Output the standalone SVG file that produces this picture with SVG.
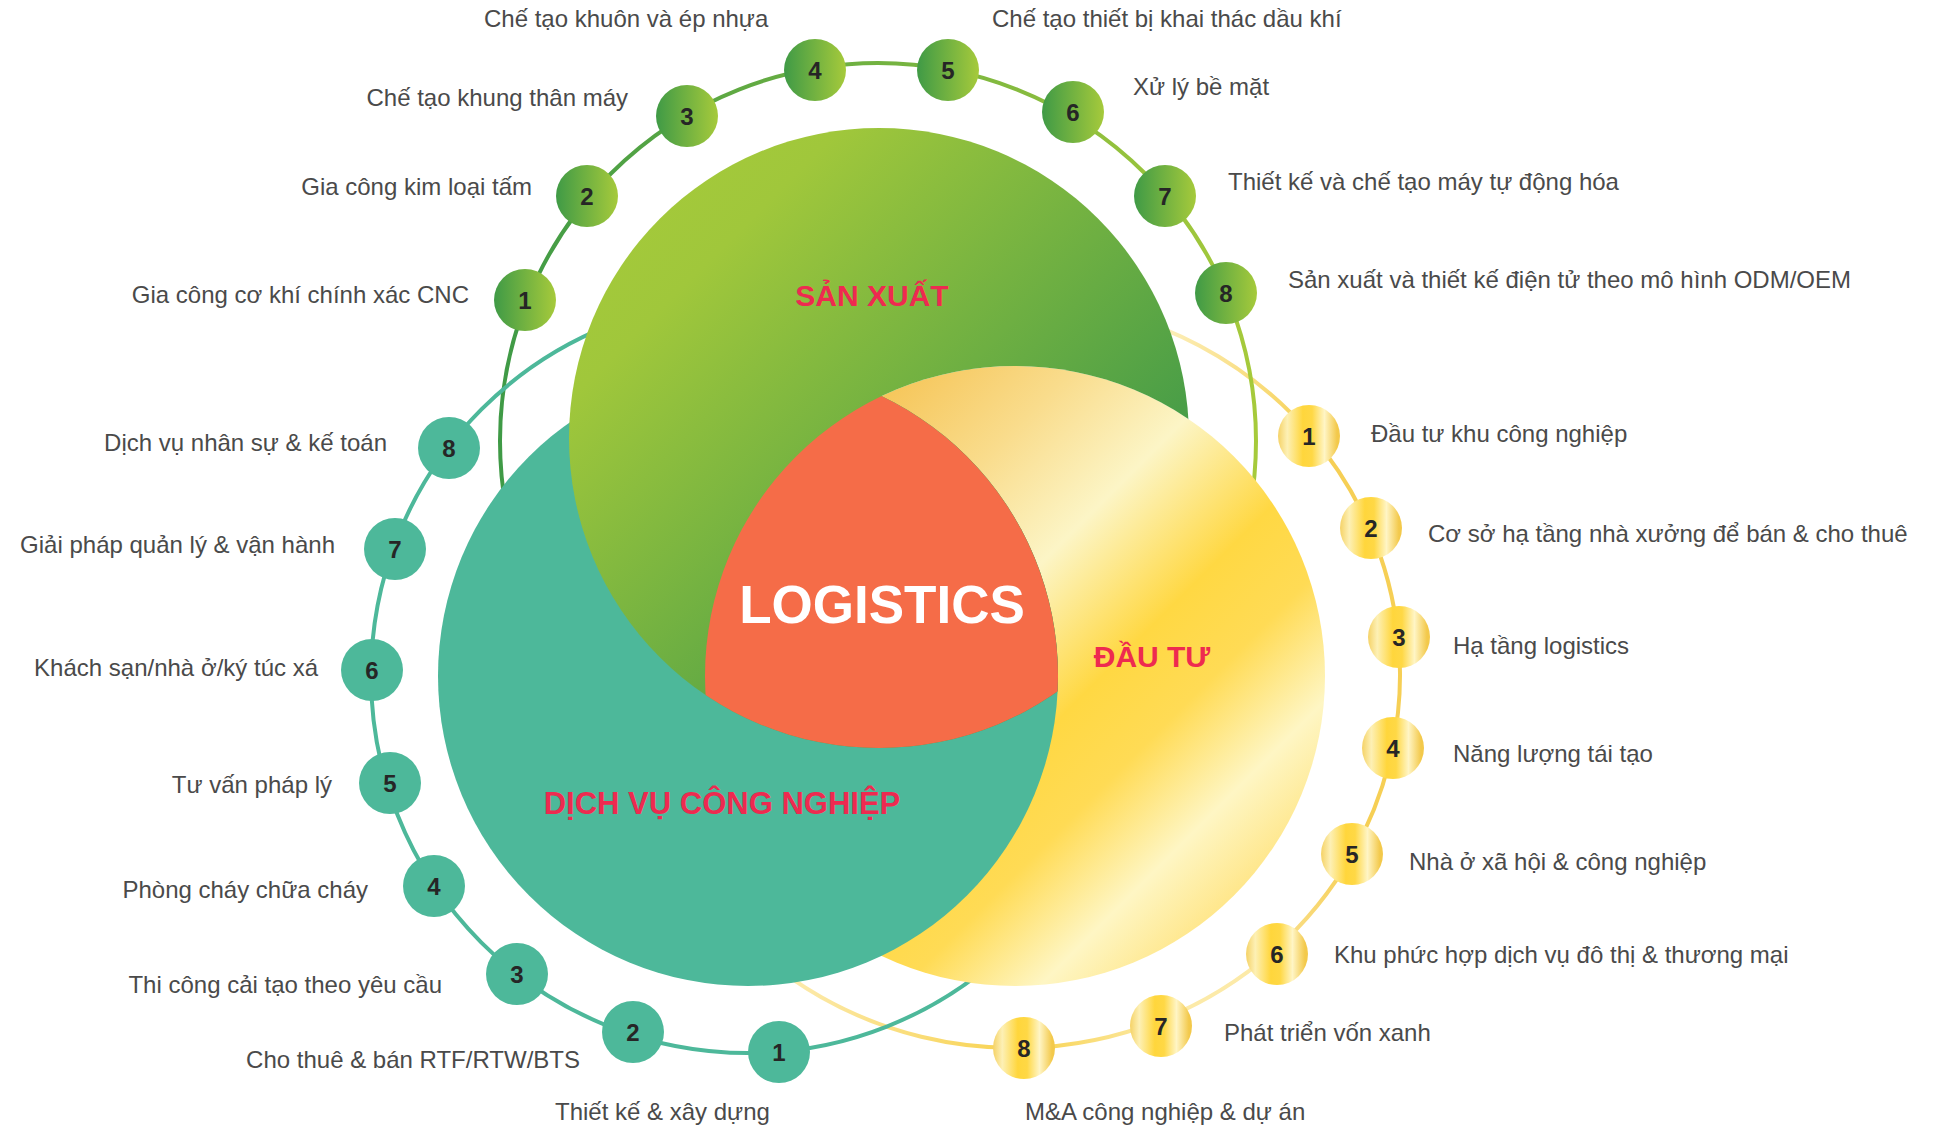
<svg xmlns="http://www.w3.org/2000/svg" width="1936" height="1127" viewBox="0 0 1936 1127">
<defs>
<linearGradient id="gBig" gradientUnits="userSpaceOnUse" x1="569" y1="128" x2="1189" y2="748">
<stop offset="0" stop-color="#A8CC3A"/><stop offset="0.22" stop-color="#A0C73B"/><stop offset="0.72" stop-color="#4A9E47"/><stop offset="1" stop-color="#449A48"/>
</linearGradient>
<linearGradient id="yBig" gradientUnits="userSpaceOnUse" x1="705" y1="366" x2="1325" y2="986">
<stop offset="0" stop-color="#F3B94A"/><stop offset="0.17" stop-color="#F6C75C"/><stop offset="0.3" stop-color="#F9DC8C"/><stop offset="0.43" stop-color="#FCF5C6"/><stop offset="0.57" stop-color="#FFD843"/><stop offset="0.66" stop-color="#FFDB55"/><stop offset="0.77" stop-color="#FEF6C4"/><stop offset="0.88" stop-color="#FFE27A"/><stop offset="1" stop-color="#FFD640"/>
</linearGradient>
<linearGradient id="gSmall" x1="0" y1="0" x2="1" y2="0">
<stop offset="0" stop-color="#3F9A46"/><stop offset="1" stop-color="#A6CA3B"/>
</linearGradient>
<linearGradient id="ySmall" x1="0" y1="0" x2="1" y2="0">
<stop offset="0" stop-color="#F5D266"/><stop offset="0.15" stop-color="#FDF0B5"/><stop offset="0.4" stop-color="#FFD63C"/><stop offset="0.55" stop-color="#FFD845"/><stop offset="0.75" stop-color="#FFF5C5"/><stop offset="0.95" stop-color="#F3C94B"/>
</linearGradient>
<linearGradient id="gRing" gradientUnits="userSpaceOnUse" x1="500" y1="0" x2="1256" y2="0">
<stop offset="0" stop-color="#3F9A46"/><stop offset="1" stop-color="#A6CA3B"/>
</linearGradient>
<linearGradient id="yr1" gradientUnits="userSpaceOnUse" x1="1173" y1="331" x2="1300" y2="430">
<stop offset="0" stop-color="#FCEDB5"/><stop offset="1" stop-color="#F7D25A"/>
</linearGradient>
<linearGradient id="yr3" gradientUnits="userSpaceOnUse" x1="1352" y1="854" x2="1274" y2="951">
<stop offset="0" stop-color="#F6CF55"/><stop offset="1" stop-color="#FAE08E"/>
</linearGradient>
<linearGradient id="yr5" gradientUnits="userSpaceOnUse" x1="1159" y1="1021" x2="1024" y2="1048">
<stop offset="0" stop-color="#FCEAA8"/><stop offset="1" stop-color="#F8D24E"/>
</linearGradient>
<linearGradient id="yr6" gradientUnits="userSpaceOnUse" x1="1024" y1="1048" x2="805" y2="980">
<stop offset="0" stop-color="#F8D24E"/><stop offset="1" stop-color="#FCE9A8"/>
</linearGradient>
<clipPath id="cG"><circle cx="879" cy="438" r="310"/></clipPath>
<clipPath id="cT"><circle cx="748" cy="676" r="310"/></clipPath>
<mask id="mG" maskUnits="userSpaceOnUse" x="0" y="0" width="1936" height="1127">
<rect x="0" y="0" width="1936" height="1127" fill="#ffffff"/>
<circle cx="1015" cy="676" r="310" fill="#000000"/>
<circle cx="748" cy="676" r="310" fill="#ffffff"/>
</mask>
<style>
.num{font-family:"Liberation Sans",Arial,sans-serif;font-weight:bold;font-size:24px;fill:#262626;text-anchor:middle}
.lbl{font-family:"Liberation Sans",Arial,sans-serif;font-size:24px;fill:#4a4a4a}
.e{text-anchor:end}
.ttl{font-family:"Liberation Sans",Arial,sans-serif;font-weight:bold;font-size:30px;fill:#EE2A50;text-anchor:middle}
.gs{fill:url(#gSmall)}
.ts{fill:#4DB89A}
.ys{fill:url(#ySmall)}
.ring{fill:none;stroke-width:4}
</style>
</defs>
<rect width="1936" height="1127" fill="#ffffff"/>

<g id="connectors">
<g id="ring-dau-tu">
<path class="ring" stroke="url(#yr1)" d="M767.5,387.5 A385,374 0 0 1 1310.8,434.6"/>
<path class="ring" stroke="#F6CF55" d="M1310.8,434.6 A385,374 0 0 1 1352.4,854.2"/>
<path class="ring" stroke="url(#yr3)" d="M1352.4,854.2 A385,374 0 0 1 1274.1,950.6"/>
<path class="ring" stroke="#FCEAA8" d="M1274.1,950.6 A385,374 0 0 1 1159.2,1020.8"/>
<path class="ring" stroke="url(#yr5)" d="M1159.2,1020.8 A385,374 0 0 1 1024.4,1047.9"/>
<path class="ring" stroke="url(#yr6)" d="M1024.4,1047.9 A385,374 0 0 1 699.6,459.5"/>
</g>
<circle id="ring-san-xuat" class="ring" cx="878" cy="441" r="378" stroke="url(#gRing)"/>
<circle id="ring-dich-vu" class="ring" cx="748" cy="676" r="377" stroke="#4DB89A"/>
</g>

<g id="venn">
<circle cx="1015" cy="676" r="310" fill="url(#yBig)"/>
<circle cx="748" cy="676" r="310" fill="#4DB89A"/>
<circle cx="879" cy="438" r="310" fill="url(#gBig)" mask="url(#mG)"/>
<g clip-path="url(#cG)"><circle cx="1015" cy="676" r="310" fill="#F56C48" clip-path="url(#cT)"/></g>
</g>

<g id="san-xuat"><text class="ttl" x="872" y="306">SẢN XUẤT</text></g>
<g id="dau-tu"><text class="ttl" x="1152" y="667">ĐẦU TƯ</text></g>
<g id="dich-vu"><text class="ttl" x="722" y="814" style="font-size:31px">DỊCH VỤ CÔNG NGHIỆP</text></g>
<g id="logistics"><text x="882" y="623" style="font-family:'Liberation Sans',Arial,sans-serif;font-weight:bold;font-size:53px;fill:#ffffff;text-anchor:middle">LOGISTICS</text></g>

<g id="g1"><circle class="gs" cx="525" cy="300" r="31"/><text class="num" x="525" y="308.5">1</text><text class="lbl e" x="469" y="303">Gia công cơ khí chính xác CNC</text></g>
<g id="g2"><circle class="gs" cx="587" cy="196" r="31"/><text class="num" x="587" y="204.5">2</text><text class="lbl e" x="532" y="195">Gia công kim loại tấm</text></g>
<g id="g3"><circle class="gs" cx="687" cy="116" r="31"/><text class="num" x="687" y="124.5">3</text><text class="lbl e" x="628" y="106">Chế tạo khung thân máy</text></g>
<g id="g4"><circle class="gs" cx="815" cy="70" r="31"/><text class="num" x="815" y="78.5">4</text><text class="lbl" x="484" y="27">Chế tạo khuôn và ép nhựa</text></g>
<g id="g5"><circle class="gs" cx="948" cy="70" r="31"/><text class="num" x="948" y="78.5">5</text><text class="lbl" x="992" y="27">Chế tạo thiết bị khai thác dầu khí</text></g>
<g id="g6"><circle class="gs" cx="1073" cy="112" r="31"/><text class="num" x="1073" y="120.5">6</text><text class="lbl" x="1133" y="95">Xử lý bề mặt</text></g>
<g id="g7"><circle class="gs" cx="1165" cy="196" r="31"/><text class="num" x="1165" y="204.5">7</text><text class="lbl" x="1228" y="190">Thiết kế và chế tạo máy tự động hóa</text></g>
<g id="g8"><circle class="gs" cx="1226" cy="293" r="31"/><text class="num" x="1226" y="301.5">8</text><text class="lbl" x="1288" y="288">Sản xuất và thiết kế điện tử theo mô hình ODM/OEM</text></g>

<g id="t1"><circle class="ts" cx="779" cy="1052" r="31"/><text class="num" x="779" y="1060.5">1</text><text class="lbl" x="555" y="1120">Thiết kế &amp; xây dựng</text></g>
<g id="t2"><circle class="ts" cx="633" cy="1032" r="31"/><text class="num" x="633" y="1040.5">2</text><text class="lbl e" x="580" y="1068">Cho thuê &amp; bán RTF/RTW/BTS</text></g>
<g id="t3"><circle class="ts" cx="517" cy="974" r="31"/><text class="num" x="517" y="982.5">3</text><text class="lbl e" x="442" y="993">Thi công cải tạo theo yêu cầu</text></g>
<g id="t4"><circle class="ts" cx="434" cy="886" r="31"/><text class="num" x="434" y="894.5">4</text><text class="lbl e" x="368" y="898">Phòng cháy chữa cháy</text></g>
<g id="t5"><circle class="ts" cx="390" cy="783" r="31"/><text class="num" x="390" y="791.5">5</text><text class="lbl e" x="332" y="793">Tư vấn pháp lý</text></g>
<g id="t6"><circle class="ts" cx="372" cy="670" r="31"/><text class="num" x="372" y="678.5">6</text><text class="lbl e" x="318" y="676">Khách sạn/nhà ở/ký túc xá</text></g>
<g id="t7"><circle class="ts" cx="395" cy="549" r="31"/><text class="num" x="395" y="557.5">7</text><text class="lbl e" x="335" y="553">Giải pháp quản lý &amp; vận hành</text></g>
<g id="t8"><circle class="ts" cx="449" cy="448" r="31"/><text class="num" x="449" y="456.5">8</text><text class="lbl e" x="387" y="451">Dịch vụ nhân sự &amp; kế toán</text></g>

<g id="y1"><circle class="ys" cx="1309" cy="436" r="31"/><text class="num" x="1309" y="444.5">1</text><text class="lbl" x="1371" y="442">Đầu tư khu công nghiệp</text></g>
<g id="y2"><circle class="ys" cx="1371" cy="528" r="31"/><text class="num" x="1371" y="536.5">2</text><text class="lbl" x="1428" y="542">Cơ sở hạ tầng nhà xưởng để bán &amp; cho thuê</text></g>
<g id="y3"><circle class="ys" cx="1399" cy="637" r="31"/><text class="num" x="1399" y="645.5">3</text><text class="lbl" x="1453" y="654">Hạ tầng logistics</text></g>
<g id="y4"><circle class="ys" cx="1393" cy="748" r="31"/><text class="num" x="1393" y="756.5">4</text><text class="lbl" x="1453" y="762">Năng lượng tái tạo</text></g>
<g id="y5"><circle class="ys" cx="1352" cy="854" r="31"/><text class="num" x="1352" y="862.5">5</text><text class="lbl" x="1409" y="870">Nhà ở xã hội &amp; công nghiệp</text></g>
<g id="y6"><circle class="ys" cx="1277" cy="954" r="31"/><text class="num" x="1277" y="962.5">6</text><text class="lbl" x="1334" y="963">Khu phức hợp dịch vụ đô thị &amp; thương mại</text></g>
<g id="y7"><circle class="ys" cx="1161" cy="1026" r="31"/><text class="num" x="1161" y="1034.5">7</text><text class="lbl" x="1224" y="1041">Phát triển vốn xanh</text></g>
<g id="y8"><circle class="ys" cx="1024" cy="1048" r="31"/><text class="num" x="1024" y="1056.5">8</text><text class="lbl" x="1025" y="1120">M&amp;A công nghiệp &amp; dự án</text></g>
</svg>
